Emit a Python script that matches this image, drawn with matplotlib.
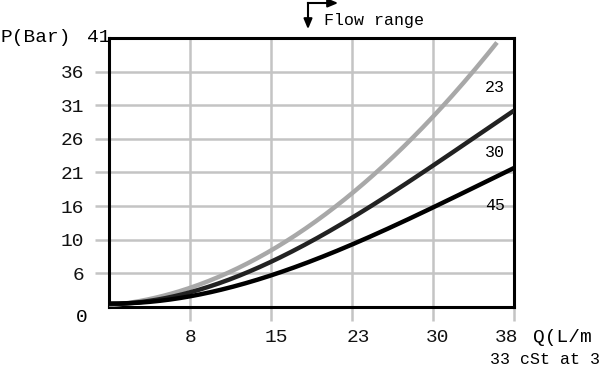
import matplotlib.pyplot as plt
import matplotlib.transforms as mtransforms
import numpy as np

# readings (Q in L/min, P in bar)
q = [0, 3.8, 7.6, 11.4, 15.2, 19.0, 22.8, 26.6, 30.4, 34.2, 36.4, 38.0]
p_23 = [0.5, 1.1, 2.5, 5.2, 8.9, 12.9, 17.6, 22.9, 28.5, 35.3, 41.0, None]
p_30 = [0.5, 1.0, 2.0, 4.1, 7.1, 10.2, 13.7, 17.4, 21.3, 25.8, None, 30.0]
p_45 = [0.5, 0.9, 1.6, 2.8, 4.9, 7.1, 9.6, 12.2, 15.1, 18.2, None, 21.2]
viscosities = ["23", "30", "45"]

x_ticks = [7.6, 15.2, 22.8, 30.4, 38]
x_labels = ["8", "15", "23", "30", "38"]
y_ticks = [5.125, 10.25, 15.375, 20.5, 25.625, 30.75, 35.875]
y_labels = ["6", "10", "16", "21", "26", "31", "36"]

mono = "Liberation Mono"
plt.rcParams['font.family'] = [mono, 'DejaVu Sans']

fig = plt.figure(figsize=(6, 3.67), dpi=100)
ax = fig.add_axes([0.1817, 0.1635, 0.675, 0.733])


def smooth(xs, ys):
    # smooth cubic through the read points
    pts = [(a, b) for a, b in zip(xs, ys) if b is not None]
    xa = np.array([a for a, _ in pts])
    ya = np.array([b for _, b in pts])
    c = np.polyfit(xa, ya, 3)
    xx = np.linspace(xa[0], xa[-1], 200)
    return xx, np.polyval(c, xx)


for ys, col in [(p_23, "#a8a8a8"), (p_30, "#222222"), (p_45, "#000000")]:
    xx, yy = smooth(q, ys)
    ax.plot(xx, yy, color=col, lw=3.2, solid_capstyle="butt", zorder=3)

ax.set_xlim(0, 38)
ax.set_ylim(0, 41)
ax.set_xticks(x_ticks)
ax.set_xticklabels(x_labels)
ax.set_yticks(y_ticks)
ax.set_yticklabels(y_labels)
ax.grid(True, color="#c4c4c4", lw=1.8)
ax.set_axisbelow(True)
ax.tick_params(axis="both", colors="#c4c4c4", width=1.8, length=10,
               labelcolor="#111111", labelsize=14)
ax.tick_params(axis="x", pad=6)
ax.tick_params(axis="y", pad=8)
for s in ax.spines.values():
    s.set_linewidth(2.2)
    s.set_color("black")

# nudge x labels like the original
for lab, dx in zip(ax.get_xticklabels(), [1, 5, 6, 5, -7]):
    lab.set_transform(lab.get_transform() +
                      mtransforms.ScaledTranslation(dx / 100, 0, fig.dpi_scale_trans))

# curve labels
for lab, yv in zip(viscosities, [33.5, 23.6, 15.5]):
    ax.text(36.2, yv, lab, fontsize=12, ha="center", va="center")

# odd labels outside axes
fig.text(87 / 600, 1 - 37 / 367, "41", fontsize=14, ha="left", va="center")
fig.text(88 / 600, 1 - 317 / 367, "0", fontsize=14, ha="right", va="center")
fig.text(0, 1 - 38 / 367, "P(Bar)", fontsize=14, ha="left", va="center")
fig.text(533 / 600, 1 - 338 / 367, "Q(L/m", fontsize=14, ha="left", va="center")
fig.text(490 / 600, 1 - 359 / 367, "33 cSt at 3", fontsize=12, ha="left", va="center")
fig.text(324 / 600, 1 - 20 / 367, "Flow range", fontsize=12, ha="left", va="center")

# flow range arrow
fig.add_artist(plt.Line2D([308 / 600, 308 / 600], [1 - 3 / 367, 1 - 24 / 367],
                          color="black", lw=1.5, transform=fig.transFigure))
fig.add_artist(plt.Line2D([308 / 600, 332 / 600], [1 - 3 / 367, 1 - 3 / 367],
                          color="black", lw=1.5, transform=fig.transFigure))
ax.annotate("", xy=(308 / 600, 1 - 32 / 367), xytext=(308 / 600, 1 - 20 / 367),
            xycoords="figure fraction",
            arrowprops=dict(arrowstyle="-|>,head_width=0.25,head_length=0.6",
                            color="black", lw=1.5))
ax.annotate("", xy=(341 / 600, 1 - 3 / 367), xytext=(329 / 600, 1 - 3 / 367),
            xycoords="figure fraction",
            arrowprops=dict(arrowstyle="-|>,head_width=0.25,head_length=0.6",
                            color="black", lw=1.5))

fig.savefig("out.png", dpi=100)
